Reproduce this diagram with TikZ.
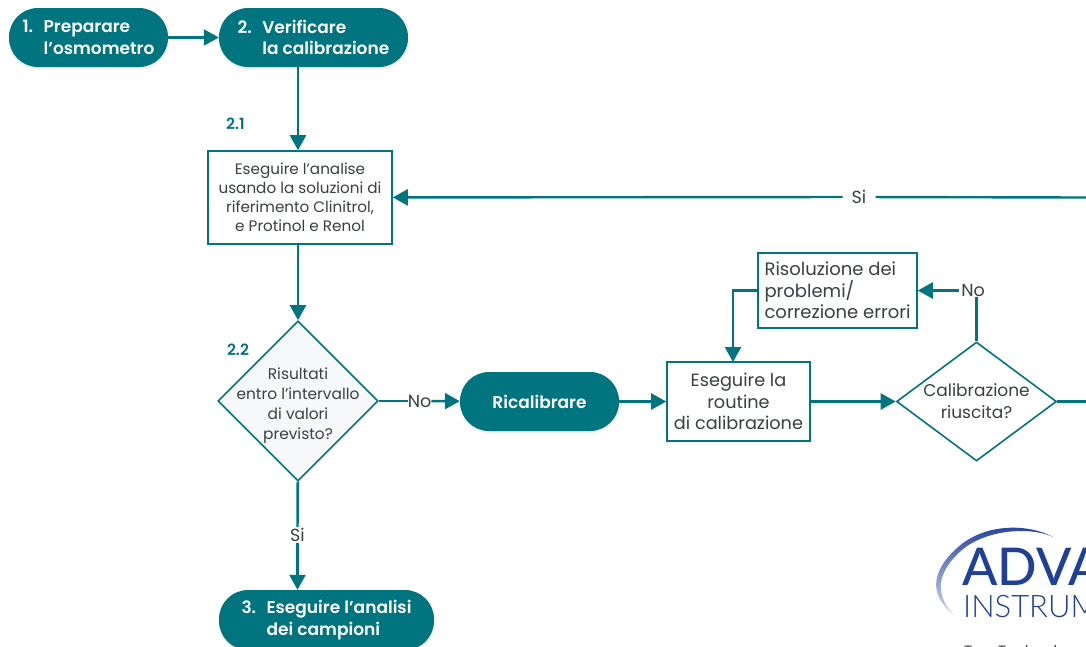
\documentclass[tikz,border=0pt]{standalone}
\usepackage{fontspec}
\setmainfont{Poppins}
\newfontfamily\semib{Poppins SemiBold}
\newfontfamily\logofont{Lato Medium}
\newfontfamily\logolight{Lato Light}
\usetikzlibrary{shapes.geometric,arrows.meta,shadows}
\definecolor{teal1}{HTML}{00747F}
\definecolor{ink}{HTML}{3A3F42}
\definecolor{logoblue}{HTML}{1F4096}
\definecolor{pale}{HTML}{F6F8FA}
\tikzset{
  x=1pt,y=-1pt,
  pill/.style={draw=none,fill=teal1,text=white,font=\fontsize{17}{21.5}\semib,align=left,inner sep=0pt,rounded corners=29pt,anchor=center,
    drop shadow={opacity=.14,shadow xshift=0pt,shadow yshift=-2pt}},
  stepbox/.style={draw=teal1,line width=1.6pt,fill=white,text=ink,font=\fontsize{15.2}{19}\selectfont,align=center,inner sep=0pt,anchor=center},
  choice/.style={diamond,draw=teal1,line width=1.6pt,fill=#1,text=ink,font=\fontsize{15.4}{20}\selectfont,align=center,inner sep=-16pt,aspect=1},
  link/.style={draw=teal1,line width=2.4pt},
  flow/.style={link,-{Triangle[length=15pt,width=16pt]}},
  lab/.style={fill=white,text=ink,font=\fontsize{17.5}{20}\selectfont,inner sep=0pt},
  stepnum/.style={text=teal1,font=\fontsize{15.5}{18}\semib,inner sep=0pt}
}
\begin{document}
\begin{tikzpicture}
\useasboundingbox (0,0) rectangle (1086,646);
\clip (0,0) rectangle (1086,646);
% pills
\node[pill,minimum width=159pt,minimum height=59pt] (p1) at (88.5,37.5) {1.\hspace{0.62em}Preparare\\\phantom{1.\hspace{0.62em}}l’osmometro};
\node[pill,minimum width=189pt,minimum height=59pt] (p2) at (313.5,37.5) {2.\hspace{0.62em}Verificare\\\phantom{2.\hspace{0.62em}}la calibrazione};
\node[pill,minimum width=159pt,minimum height=59pt] (p4) at (539.5,401.5) {Ricalibrare};
\node[pill,minimum width=215pt,minimum height=60pt] (p3) at (326.5,620) {3.\hspace{0.62em}Eseguire l’analisi\\\phantom{3.\hspace{0.62em}}dei campioni};
% boxes
\node[stepbox,minimum width=184pt,minimum height=93pt] (b1) at (300,197.5) {Eseguire l’analise\\usando la soluzioni di\\riferimento Clinitrol,\\e Protinol e Renol};
\node[stepbox,font=\fontsize{17.7}{21.5}\selectfont,minimum width=143pt,minimum height=79pt] (b2) at (738.5,401.5) {Eseguire la\\routine\\di calibrazione};
\node[stepbox,font=\fontsize{18}{21.5}\selectfont,minimum width=159pt,minimum height=75pt,align=left] (b3) at (837.5,290.5) {Risoluzione dei\\problemi/\\correzione errori};
% decisions
\node[choice=pale,minimum width=160pt,minimum height=160pt] (d1) at (298,401) {\rule{0pt}{20pt}Risultati\\entro l’intervallo\\di valori\\previsto?};
\node[choice=white,font=\fontsize{17}{22}\selectfont,aspect=1.34,minimum width=160pt,minimum height=119pt] (d2) at (976.5,401.5) {Calibrazione\\riuscita?};
% step numbers
\node[stepnum] (n21) at (235.5,124) {2.1};
\node[stepnum] (n22) at (238,350) {2.2};
% free ends
\coordinate (eSi) at (1086,197.5);
\coordinate (eOut) at (1086,401.5);
% connector labels
\node[lab,inner xsep=9pt] (si1) at (859,197) {Si};
\node[lab] (no1) at (419.5,401) {No};
\node[lab,inner ysep=1pt] (si2) at (297.5,535) {Si};
\node[lab,inner xsep=2pt] (no2) at (973,290.5) {No};
% connectors
\draw[flow] (d1.north |- p2.south) -- (d1.north |- b1.north);
\draw[flow] (p1) -- (p2);
\draw[link] (eSi) -- (si1);
\draw[flow] (si1) -- (b1);
\draw[flow] (d1.north |- b1.south) -- (d1.north);
\draw[link] (d1) -- (no1);
\draw[flow] (no1) -- (p4);
\draw[link] (d1) -- (si2);
\draw[flow] (si2) -- (si2 |- p3.north);
\draw[flow] (p4) -- (b2);
\draw[flow] (b2) -- (d2);
\draw[link] (d2.east) -- (eOut);
\draw[link] (d2.north) -- (d2.north |- no2.south);
\draw[flow] (no2) -- (b3);
\coordinate (b2in) at (733,362);
\draw[flow] (b3.west) -| (b2in);
% logo
\shade[top color=logoblue,bottom color=logoblue!18]
  (1053,537) .. controls (1030,524) and (985,522) .. (957,548)
  .. controls (928,574) and (931,598) .. (955,616)
  .. controls (937,598) and (933,575) .. (962,550)
  .. controls (985,530) and (1030,526) .. (1053,537) -- cycle;
\node[text=logoblue,font=\fontsize{52}{52}\logofont,anchor=base west,inner sep=0pt] (adva) at (962,585) {ADVA};
\node[text=logoblue,font=\fontsize{31}{31}\logolight,anchor=base west,inner sep=0pt] (inst) at (963,617) {INSTRUM};
\node[text=ink,font=\fontsize{15}{15}\selectfont,anchor=base west,inner sep=0pt] (tag) at (964,656) {Two Technol};
\end{tikzpicture}
\end{document}
